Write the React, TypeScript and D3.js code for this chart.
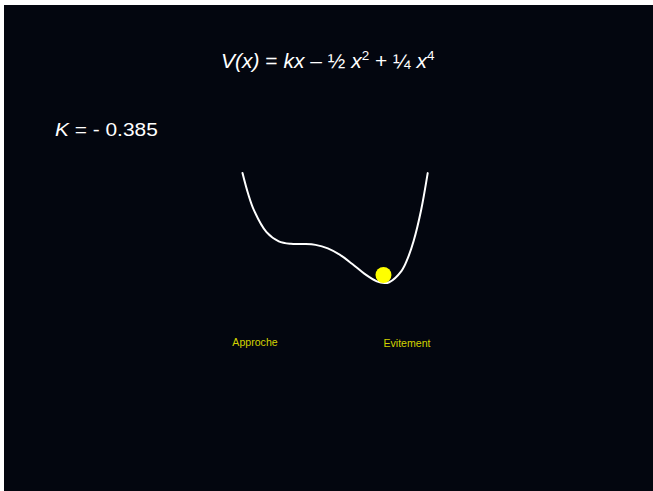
import React from "react";
import * as d3 from "d3";

// Potential curve samples: V(x) = kx - 1/2 x^2 + 1/4 x^4, k = -0.385
const curveX = [-1.74, -1.625, -1.5, -1.25, -1.0, -0.75, -0.5, -0.25, 0, 0.25, 0.5, 0.75, 1.0, 1.155, 1.25, 1.5, 1.625, 1.75, 1.9, 2.037];
const curveV = [1.4477, 1.0485, 0.7181, 0.3104, 0.135, 0.0866, 0.0831, 0.066, 0, -0.1265, -0.3019, -0.4909, -0.635, -0.6668, -0.6521, -0.4369, -0.2027, 0.1397, 0.7215, 1.4454];
const kValue = "- 0.385";
const ballX = 1.135;
const ballV = -0.6668;
const labels = ["Approche", "Evitement"];
const labelX = [-1.485, 1.615];

export default function App() {
  const W = 653;
  const H = 491;
  const xScale = d3.scaleLinear().domain([-1.74, 2.037]).range([242.5, 427.7]);
  const yScale = d3.scaleLinear().domain([-0.6668, 1.4477]).range([283, 173]);
  const pts: [number, number][] = curveX.map((x, i) => [xScale(x), yScale(curveV[i])]);
  const line = d3.line().curve(d3.curveCatmullRom.alpha(0.5))(pts) || "";
  const r = 8;
  const font = "'Liberation Sans', Arial, Helvetica, sans-serif";
  return (
    <svg
      width={W}
      height={H}
      style={{ position: "absolute", left: 0, top: 0, display: "block" }}
      fontFamily={font}
    >
      <rect x={0} y={0} width={W} height={H} fill="#ffffff" />
      <rect x={4} y={5} width={W - 4} height={H - 5} fill="#03060f" />
      <text x={221} y={68} fill="#ffffff" fontSize={21}>
        <tspan fontStyle="italic">V(x)</tspan>
        <tspan> = </tspan>
        <tspan fontStyle="italic">kx</tspan>
        <tspan> – ½ </tspan>
        <tspan fontStyle="italic">x</tspan>
        <tspan fontSize={13.5} dy={-8}>2</tspan>
        <tspan dy={8}> + ¼ </tspan>
        <tspan fontStyle="italic">x</tspan>
        <tspan fontSize={13.5} dy={-8}>4</tspan>
      </text>
      <g transform="translate(55,136) scale(1.13,1)">
        <text x={0} y={0} fill="#ffffff" fontSize={18.5}>
          <tspan fontStyle="italic">K</tspan>
          <tspan> = {kValue}</tspan>
        </text>
      </g>
      <path d={line} fill="none" stroke="#ffffff" strokeWidth={2} strokeLinecap="round" />
      <circle cx={xScale(ballX)} cy={yScale(ballV) - r} r={r} fill="#ffff00" />
      {labels.map((l, i) => (
        <text key={l} x={xScale(labelX[i])} y={i === 0 ? 346 : 347} fill="#d2d200" fontSize={10.6} textAnchor="middle">
          {l}
        </text>
      ))}
    </svg>
  );
}
